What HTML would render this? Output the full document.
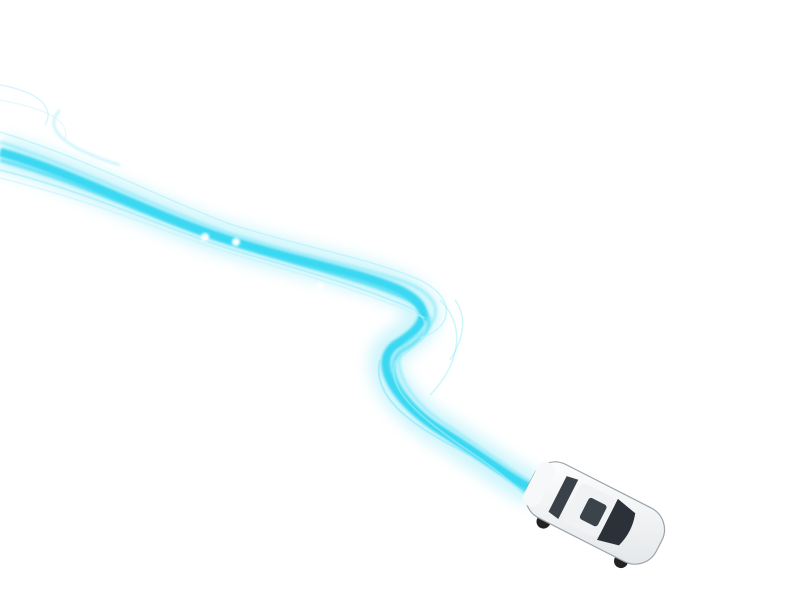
<!DOCTYPE html>
<html><head><meta charset="utf-8"><style>
html,body{margin:0;padding:0;background:#fff;width:800px;height:600px;overflow:hidden}
</style></head><body>
<svg width="800" height="600" viewBox="0 0 800 600" xmlns="http://www.w3.org/2000/svg">
<defs>
<filter id="glow" x="-20%" y="-20%" width="140%" height="140%"><feGaussianBlur stdDeviation="7"/></filter>
<filter id="soft" x="-20%" y="-20%" width="140%" height="140%"><feGaussianBlur stdDeviation="1.2"/></filter>
<linearGradient id="carbody" x1="0" y1="0" x2="1" y2="1"><stop offset="0" stop-color="#ffffff"/><stop offset="1" stop-color="#e3e6e9"/></linearGradient>
</defs>
<g>
<path d="M0,152 C80,175 150,215 230,240 C300,262 360,272 400,290 C440,310 420,330 395,345 C370,365 400,405 440,430 C480,455 510,478 535,490" fill="none" stroke="#5fe0f5" stroke-width="34" opacity="0.3" filter="url(#glow)"/>
<path d="M0,152 C80,175 150,215 230,240 C300,262 360,272 400,290 C440,310 420,330 395,345 C370,365 400,405 440,430 C480,455 510,478 535,490" fill="none" stroke="#22d3f0" stroke-width="9" opacity="0.85" filter="url(#soft)"/>
<path d="M0,160 C90,185 160,222 240,246 C310,268 365,280 410,300 C445,320 425,338 400,352 C380,370 410,410 450,436 C490,460 515,482 530,495" fill="none" stroke="#3ad9f2" stroke-width="4" opacity="0.7" filter="url(#soft)"/>
<path d="M0,142 C80,168 150,205 225,232 C300,256 360,266 405,282 C450,300 440,325 410,340 C385,358 405,398 445,424 C485,450 512,472 538,486" fill="none" stroke="#7be6f7" stroke-width="3" opacity="0.6" filter="url(#soft)"/>
<path d="M0,170 C100,195 170,232 250,255 C320,275 370,290 415,310 C440,330 415,345 395,362 C385,390 425,420 460,445 C495,468 515,485 528,498" fill="none" stroke="#9eeefa" stroke-width="2" opacity="0.6"/>
<path d="M0,132 C90,160 160,198 230,224 C305,248 370,258 420,280 C460,300 450,330 420,338" fill="none" stroke="#b6f2fb" stroke-width="1.5" opacity="0.7"/>
<path d="M0,178 C110,205 180,240 260,262 C330,282 380,298 425,318" fill="none" stroke="#c4f4fb" stroke-width="1.5" opacity="0.6"/>
<path d="M60,110 C40,130 70,150 120,165" fill="none" stroke="#8fe8f7" stroke-width="2" opacity="0.6" filter="url(#soft)"/>
<path d="M0,85 C40,92 55,108 45,125" fill="none" stroke="#bdf1fb" stroke-width="1.5" opacity="0.6"/>
<path d="M0,100 C50,110 70,120 65,140" fill="none" stroke="#c8f3fb" stroke-width="1.2" opacity="0.5"/>
<path d="M380,360 C370,400 420,430 470,455" fill="none" stroke="#8ce8f7" stroke-width="2" opacity="0.6"/>
<path d="M440,300 C470,330 455,370 430,395" fill="none" stroke="#9eeefa" stroke-width="1.5" opacity="0.5"/>
<path d="M455,300 C470,320 460,345 450,360" fill="none" stroke="#9eeefa" stroke-width="1.5" opacity="0.5"/>
<circle cx="205" cy="237" r="4" fill="#fff" filter="url(#soft)"/>
<circle cx="236" cy="242" r="4" fill="#fff" filter="url(#soft)"/>
<circle cx="320" cy="286" r="3.5" fill="#fff" filter="url(#soft)"/>
</g>
<g transform="translate(595,513) rotate(27)">
<circle cx="-42" cy="31" r="7" fill="#222"/>
<circle cx="45" cy="31" r="7" fill="#222"/>
<rect x="-72" y="-30" width="144" height="60" rx="24" fill="url(#carbody)" stroke="#9aa3ab" stroke-width="1.2"/>
<path d="M-42,-20 L-30,-22 L-30,22 L-42,20 Z" fill="#3a4149"/>
<path d="M14,-23 L36,-18 Q42,0 36,18 L14,23 Z" fill="#2b3138"/>
<rect x="-26" y="-22" width="40" height="44" rx="6" fill="#f0f2f4"/>
<rect x="-12" y="-12" width="20" height="24" rx="3" fill="#3b434b"/>
<rect x="-72" y="-24" width="18" height="48" rx="9" fill="#f7f8f9"/>
</g>
</svg>
</body></html>
